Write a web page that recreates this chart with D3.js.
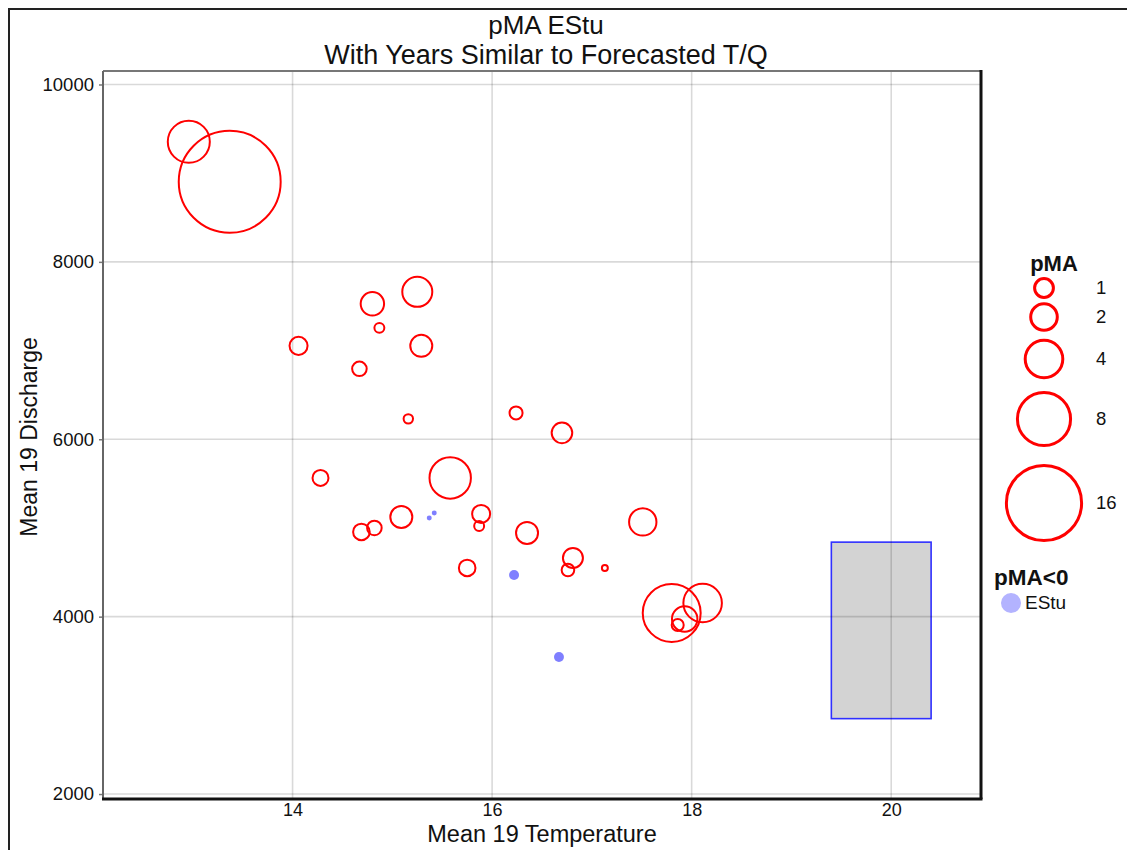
<!DOCTYPE html>
<html>
<head>
<meta charset="utf-8">
<script src="https://cdn.jsdelivr.net/npm/d3@7"></script>
<style>
  html, body { margin: 0; padding: 0; background: #fff; }
  svg { display: block; font-family: "Liberation Sans", Arial, sans-serif; }
</style>
</head>
<body>
<svg id="chart" width="1127" height="850"></svg>
<script>
// ---- data ----
const titleLines = ["pMA EStu", "With Years Similar to Forecasted T/Q"];
const xLabel = "Mean 19 Temperature";
const yLabel = "Mean 19 Discharge";
const xTicks = [14, 16, 18, 20];
const yTicks = [2000, 4000, 6000, 8000, 10000];

// positive pMA years (red open circles)
const redTemp = [12.96, 13.37, 14.06, 14.80, 15.25, 14.87, 15.29, 14.67, 15.16, 16.24,
                 16.70, 14.28, 15.58, 15.09, 14.69, 14.82, 15.89, 15.87, 15.75, 16.35,
                 17.51, 16.81, 16.76, 17.13, 17.80, 18.11, 17.93, 17.86];
const redQ    = [9354, 8903, 7053, 7527, 7662, 7256, 7053, 6794, 6230, 6297,
                 6072, 5564, 5564, 5124, 4955, 5000, 5158, 5023, 4549, 4944,
                 5068, 4662, 4526, 4549, 4042, 4154, 3974, 3906];
const redPMA  = [5.0, 29.4, 0.92, 1.55, 2.55, 0.28, 1.37, 0.60, 0.25, 0.48,
                 1.2, 0.72, 4.85, 1.37, 0.78, 0.60, 0.92, 0.28, 0.78, 1.37,
                 2.12, 1.13, 0.45, 0.10, 9.5, 4.2, 1.83, 0.41];

// negative pMA years (blue dots)
const blueTemp = [15.37, 15.42, 16.22, 16.67];
const blueQ    = [5113, 5169, 4470, 3545];
const bluePMA  = [-0.07, -0.07, -0.28, -0.28];

// forecast box
const boxTemp = [19.4, 20.4];
const boxQ    = [2850, 4840];

// legend
const legendSizes = [1, 2, 4, 8, 16];
const legendTitle = "pMA";
const negTitle = "pMA<0";
const negLabel = "EStu";

// ---- layout ----
const svg = d3.select("#chart");
const P = { left: 103, right: 981, top: 71, bottom: 799 };

const x = d3.scaleLinear().domain([12.1, 20.9]).range([P.left, P.right]);
const y = d3.scaleLinear().domain([1944, 10152]).range([P.bottom, P.top]);
const r = d3.scaleSqrt().domain([0, 16]).range([0, 37.6]);

// outer frame
svg.append("rect").attr("x", 9).attr("y", 9).attr("width", 1200).attr("height", 900)
  .attr("fill", "none").attr("stroke", "#222").attr("stroke-width", 2);

// forecast box (under grid)
svg.append("rect")
  .attr("x", x(boxTemp[0])).attr("y", y(boxQ[1]))
  .attr("width", x(boxTemp[1]) - x(boxTemp[0]))
  .attr("height", y(boxQ[0]) - y(boxQ[1]))
  .attr("fill", "#d3d3d3").attr("stroke", "#3030ff").attr("stroke-width", 1.6);

// grid
const grid = svg.append("g").attr("stroke", "#000").attr("stroke-opacity", 0.15).attr("stroke-width", 1.6);
grid.selectAll(".gx").data(xTicks).join("line")
  .attr("x1", d => x(d)).attr("x2", d => x(d)).attr("y1", P.top).attr("y2", P.bottom);
grid.selectAll(".gy").data(yTicks).join("line")
  .attr("y1", d => y(d)).attr("y2", d => y(d)).attr("x1", P.left).attr("x2", P.right);

// axes via d3
const yAxis = d3.axisLeft(y).tickValues(yTicks).tickSize(4).tickPadding(5).tickFormat(d3.format("d"));
const gy = svg.append("g").attr("transform", `translate(${P.left},0)`).call(yAxis);
gy.select(".domain").remove();
gy.selectAll(".tick line").attr("stroke", "#777").attr("stroke-width", 1.5);
gy.selectAll(".tick text").attr("font-size", 18.5).attr("fill", "#111")
  .attr("font-family", "Liberation Sans, Arial, sans-serif");

const xAxis = d3.axisBottom(x).tickValues(xTicks).tickSize(0).tickPadding(4).tickFormat(d3.format("d"));
const gx = svg.append("g").attr("transform", `translate(0,${P.bottom})`).call(xAxis);
gx.select(".domain").remove();
gx.selectAll(".tick text").attr("font-size", 18).attr("fill", "#111")
  .attr("font-family", "Liberation Sans, Arial, sans-serif");

// panel borders
svg.append("line").attr("x1", P.left).attr("x2", P.right).attr("y1", P.top).attr("y2", P.top)
  .attr("stroke", "#777").attr("stroke-width", 2);
svg.append("line").attr("x1", P.left).attr("x2", P.left).attr("y1", P.top).attr("y2", P.bottom)
  .attr("stroke", "#666").attr("stroke-width", 2);
svg.append("line").attr("x1", P.left - 1).attr("x2", P.right + 1.5).attr("y1", P.bottom).attr("y2", P.bottom)
  .attr("stroke", "#111").attr("stroke-width", 3);
svg.append("line").attr("x1", P.right).attr("x2", P.right).attr("y1", P.top - 1).attr("y2", P.bottom)
  .attr("stroke", "#111").attr("stroke-width", 3);

// red bubbles
const redData = redTemp.map((t, i) => ({ t, q: redQ[i], p: redPMA[i] }));
svg.append("g").selectAll("circle").data(redData).join("circle")
  .attr("cx", d => x(d.t)).attr("cy", d => y(d.q)).attr("r", d => r(Math.abs(d.p)))
  .attr("fill", "none").attr("stroke", "#ff0000").attr("stroke-width", 2);

// blue dots
const blueData = blueTemp.map((t, i) => ({ t, q: blueQ[i], p: bluePMA[i] }));
svg.append("g").selectAll("circle").data(blueData).join("circle")
  .attr("cx", d => x(d.t)).attr("cy", d => y(d.q)).attr("r", d => r(Math.abs(d.p)))
  .attr("fill", "#7f7fff").attr("stroke", "none");

// titles
const cx = (P.left + P.right) / 2 + 4;
svg.append("text").attr("x", cx).attr("y", 34).attr("text-anchor", "middle")
  .attr("font-size", 26).attr("fill", "#111").text(titleLines[0]);
svg.append("text").attr("x", cx).attr("y", 64).attr("text-anchor", "middle")
  .attr("font-size", 27).attr("fill", "#111").text(titleLines[1]);

svg.append("text").attr("x", (P.left + P.right) / 2).attr("y", 842).attr("text-anchor", "middle")
  .attr("font-size", 23.5).attr("fill", "#111").text(xLabel);
svg.append("text").attr("transform", `translate(37,437) rotate(-90)`).attr("text-anchor", "middle")
  .attr("font-size", 23).attr("fill", "#111").text(yLabel);

// legend
const lg = svg.append("g");
lg.append("text").attr("x", 1054).attr("y", 271).attr("text-anchor", "middle")
  .attr("font-size", 22).attr("font-weight", "bold").attr("fill", "#111").text(legendTitle);
const legendY = [288, 317, 359, 419, 503];
lg.selectAll(".lc").data(legendSizes).join("circle")
  .attr("cx", 1044).attr("cy", (d, i) => legendY[i]).attr("r", d => r(d))
  .attr("fill", "none").attr("stroke", "#ff0000").attr("stroke-width", 3);
lg.selectAll(".lt").data(legendSizes).join("text")
  .attr("x", 1096).attr("y", (d, i) => legendY[i] + 6)
  .attr("font-size", 18.5).attr("fill", "#111").text(d => d);

lg.append("text").attr("x", 994).attr("y", 585)
  .attr("font-size", 22.5).attr("font-weight", "bold").attr("fill", "#111").text(negTitle);
lg.append("circle").attr("cx", 1011).attr("cy", 603).attr("r", 10).attr("fill", "#b3b3ff");
lg.append("text").attr("x", 1025).attr("y", 609)
  .attr("font-size", 19).attr("fill", "#111").text(negLabel);
</script>
</body>
</html>
